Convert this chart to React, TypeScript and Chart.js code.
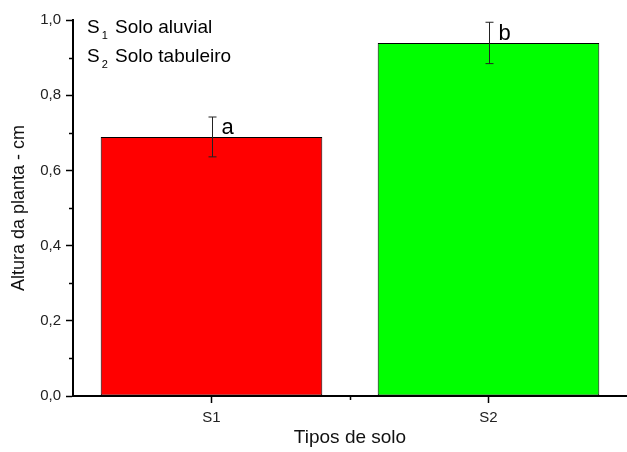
import React, { useEffect, useRef } from "react";
import { Chart, registerables } from "chart.js";

Chart.register(...registerables);

const categories = ["S1", "S2"];
const heights = [0.689, 0.939];
const errors = [0.053, 0.055];
const letters = ["a", "b"];
const barColors = ["#FF0000", "#00FF00"];
const yMajorTicks = [0, 0.2, 0.4, 0.6, 0.8, 1.0];
const yMinorTicks = [0.1, 0.3, 0.5, 0.7, 0.9];
const legendSymbols = ["S", "S"];
const legendSubs = ["1", "2"];
const legendNames = ["Solo aluvial", "Solo tabuleiro"];

const FONT = "'Liberation Sans', Arial, sans-serif";

const annotPlugin = {
  id: "annot",
  afterDatasetsDraw(chart: any) {
    const ctx = chart.ctx;
    const y = chart.scales.y;
    const x = chart.scales.x;
    const meta = chart.getDatasetMeta(0);
    ctx.save();
    // error bars
    meta.data.forEach((bar: any, i: number) => {
      const cx = Math.round(bar.x) + 0.5;
      const top = y.getPixelForValue(heights[i] + errors[i]);
      const bot = y.getPixelForValue(heights[i] - errors[i]);
      ctx.strokeStyle = "#222";
      ctx.lineWidth = 1;
      ctx.beginPath();
      ctx.moveTo(cx, top);
      ctx.lineTo(cx, bot);
      ctx.moveTo(cx - 4, top);
      ctx.lineTo(cx + 4, top);
      ctx.moveTo(cx - 4, bot);
      ctx.lineTo(cx + 4, bot);
      ctx.stroke();
      // letters
      ctx.fillStyle = "#000";
      ctx.font = `22px ${FONT}`;
      ctx.textAlign = "left";
      ctx.textBaseline = "alphabetic";
      ctx.fillText(letters[i], cx + 9, y.getPixelForValue(heights[i]) - 3);
    });
    // minor ticks
    ctx.strokeStyle = "#000";
    ctx.lineWidth = 1.5;
    ctx.beginPath();
    yMinorTicks.forEach((v) => {
      const py = Math.round(y.getPixelForValue(v)) + 0.5;
      ctx.moveTo(chart.chartArea.left - 4, py);
      ctx.lineTo(chart.chartArea.left, py);
    });
    for (let i = 0; i < categories.length - 1; i++) {
      const px = Math.round((x.getPixelForValue(i) + x.getPixelForValue(i + 1)) / 2) + 0.5;
      ctx.moveTo(px, chart.chartArea.bottom);
      ctx.lineTo(px, chart.chartArea.bottom + 4);
    }
    ctx.stroke();
    // legend text
    const lx = chart.chartArea.left + 14;
    legendNames.forEach((name, i) => {
      const by = 33 + i * 29;
      ctx.fillStyle = "#000";
      ctx.font = `19px ${FONT}`;
      ctx.textBaseline = "alphabetic";
      ctx.fillText(legendSymbols[i], lx, by);
      const w = ctx.measureText(legendSymbols[i]).width;
      ctx.font = `11px ${FONT}`;
      ctx.fillText(legendSubs[i], lx + w + 2, by + 6);
      ctx.font = `19px ${FONT}`;
      ctx.fillText(name, lx + 28, by);
    });
    ctx.restore();
  },
};

export default function App() {
  const ref = useRef<HTMLCanvasElement | null>(null);
  useEffect(() => {
    document.body.style.margin = "0";
    const canvas = ref.current!;
    const chart = new Chart(canvas, {
      type: "bar",
      data: {
        labels: categories,
        datasets: [
          {
            data: heights,
            backgroundColor: barColors,
            borderColor: "#000",
            borderWidth: 1,
            borderSkipped: false,
            barPercentage: 0.8,
            categoryPercentage: 1,
          },
        ],
      },
      options: {
        animation: false,
        responsive: false,
        devicePixelRatio: 1,
        layout: { padding: { top: 20, right: 0, bottom: 0, left: 0 } },
        plugins: { legend: { display: false }, tooltip: { enabled: false } },
        scales: {
          x: {
            afterFit: (s: any) => {
              s.height = 56;
            },
            grid: {
              offset: false,
              drawOnChartArea: false,
              drawTicks: true,
              tickLength: 7,
              tickColor: "#000",
              tickWidth: 1.5,
            },
            border: { display: true, color: "#000", width: 2 },
            ticks: {
              color: "#222",
              font: { family: FONT, size: 15 },
              padding: 6,
            },
            title: {
              display: true,
              text: "Tipos de solo",
              color: "#111",
              font: { family: FONT, size: 19 },
              padding: { top: 0, bottom: 3 },
            },
          },
          y: {
            min: 0,
            max: 1.0,
            afterFit: (s: any) => {
              s.width = 73;
            },
            afterBuildTicks: (s: any) => {
              s.ticks = yMajorTicks.map((v) => ({ value: v }));
            },
            grid: {
              drawOnChartArea: false,
              drawTicks: true,
              tickLength: 7,
              tickColor: "#000",
              tickWidth: 1.5,
            },
            border: { display: true, color: "#000", width: 2 },
            ticks: {
              color: "#222",
              font: { family: FONT, size: 15 },
              padding: 5,
              callback: (v: any) => Number(v).toFixed(1).replace(".", ","),
            },
            title: {
              display: true,
              text: "Altura da planta - cm",
              color: "#111",
              font: { family: FONT, size: 18 },
              padding: { top: 8, bottom: 0 },
            },
          },
        },
      },
      plugins: [annotPlugin],
    });
    return () => chart.destroy();
  }, []);
  return <canvas ref={ref} width={627} height={452} style={{ display: "block" }} />;
}
